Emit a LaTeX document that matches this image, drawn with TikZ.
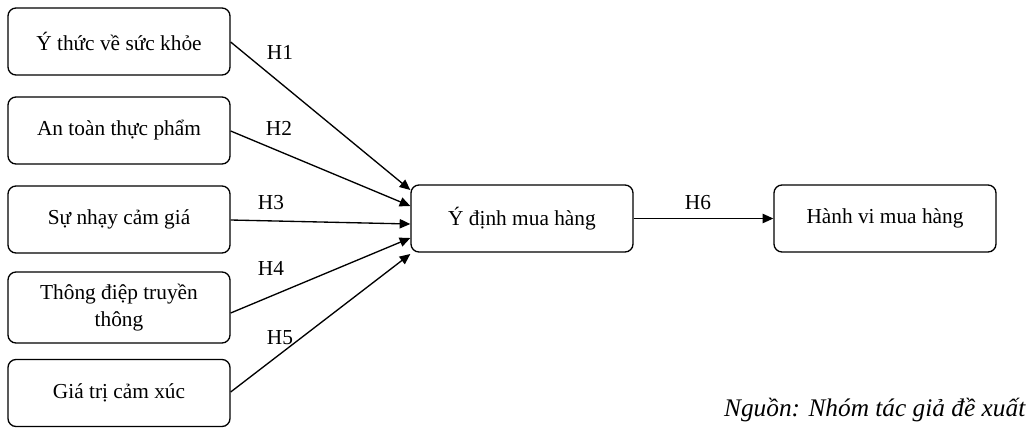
\documentclass[tikz,border=0pt]{standalone}
\usepackage{fontspec}
\setmainfont{Liberation Serif}
\usetikzlibrary{arrows.meta}
\begin{document}
\begin{tikzpicture}[x=0.75pt,y=-0.75pt,
 box/.style={draw,rounded corners=6pt,line width=1pt,minimum width=222*0.75pt,minimum height=67*0.75pt,align=center,font=\fontsize{16}{20}\selectfont,inner sep=0pt},
 arr/.style={-{Triangle[length=8pt,width=7pt]},line width=1pt},
 lab/.style={font=\fontsize{16}{20}\selectfont}]
\useasboundingbox (0,0) rectangle (1036,436);
\node[box] (b1) at (119,41.5) {Ý thức về sức khỏe};
\node[box] (b2) at (119,130.5) {An toàn thực phẩm};
\node[box] (b3) at (119,219.5) {Sự nhạy cảm giá};
\node[box,minimum height=71*0.75pt] (b4) at (119,307.5) {Thông điệp truyền\\thông};
\node[box] (b5) at (119,393) {Giá trị cảm xúc};
\node[box] (m) at (522,218.5) {Ý định mua hàng};
\node[box] (r) at (885,218.5) {\raisebox{2pt}{Hành vi mua hàng}};
\draw[arr] (b1.east|-0,42) -- (m.west|-0,190);
\draw[arr] (b2.east|-0,131) -- (m.west|-0,206);
\draw[arr] (b3.east|-0,220) -- (m.west|-0,224);
\draw[arr] (b4.east|-0,313) -- (m.west|-0,238);
\draw[arr] (b5.east|-0,392) -- (m.west|-0,254);
\draw[arr] (m) -- (r);
\node[lab] (h1) at (280,52) {H1};
\node[lab] (h2) at (279,128) {H2};
\node[lab] (h3) at (271,203) {H3};
\node[lab] (h4) at (271,268) {H4};
\node[lab] (h5) at (280,338) {H5};
\node[lab] (h6) at (698,203) {H6};
\node[lab,anchor=east,font=\fontsize{19}{22}\selectfont\itshape] (src) at (1030,410) {Nguồn: Nhóm tác giả đề xuất};
\end{tikzpicture}
\end{document}
